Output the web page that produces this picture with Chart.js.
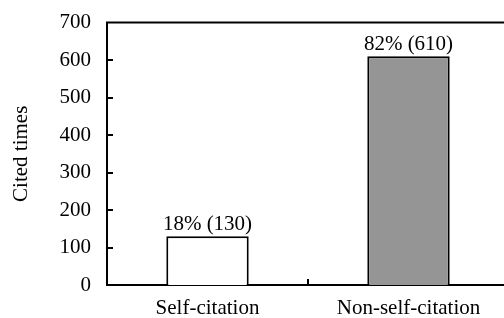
<!DOCTYPE html>
<html>
<head>
<meta charset="utf-8">
<script src="https://cdn.jsdelivr.net/npm/chart.js@4.4.1/dist/chart.umd.min.js"></script>
<style>
  html, body { margin: 0; padding: 0; background: #fff; overflow: hidden; }
  #wrap { position: absolute; left: 0; top: -6px; width: 509px; height: 324px; }
</style>
</head>
<body>
<div id="wrap"><canvas id="cite-chart"></canvas></div>
<script>
// data
var categories = ['Self-citation', 'Non-self-citation'];
var citedTimes = [130, 610];
var shareLabels = ['18%', '82%'];
var yTicks = [0, 100, 200, 300, 400, 500, 600, 700];

Chart.defaults.font.family = '"Liberation Serif", "Times New Roman", serif';
Chart.defaults.font.size = 21;
Chart.defaults.color = '#000';

// inward tick marks, top frame line and value labels
var framePlugin = {
    id: 'frame',
    afterDatasetsDraw: function (chart) {
        var ctx = chart.ctx;
        var area = chart.chartArea;
        var x = chart.scales.x;
        var y = chart.scales.y;

        ctx.save();
        ctx.strokeStyle = '#000';
        ctx.lineWidth = 2;

        // top line of the frame
        ctx.beginPath();
        ctx.moveTo(area.left - 1, area.top);
        ctx.lineTo(area.right + 1, area.top);
        ctx.stroke();

        // y ticks pointing into the plot
        yTicks.forEach(function (v) {
            if (v === 0 || v === 700) return;
            var py = Math.round(y.getPixelForValue(v));
            ctx.beginPath();
            ctx.moveTo(area.left, py);
            ctx.lineTo(area.left + 6, py);
            ctx.stroke();
        });

        // category separator tick
        for (var i = 0; i < categories.length - 1; i++) {
            var px = Math.round((x.getPixelForValue(i) + x.getPixelForValue(i + 1)) / 2);
            ctx.beginPath();
            ctx.moveTo(px, area.bottom);
            ctx.lineTo(px, area.bottom - 6);
            ctx.stroke();
        }

        // value labels above the bars
        var meta = chart.getDatasetMeta(0);
        ctx.fillStyle = '#000';
        ctx.font = '21px "Liberation Serif", "Times New Roman", serif';
        ctx.textAlign = 'center';
        ctx.textBaseline = 'bottom';
        meta.data.forEach(function (bar, idx) {
            ctx.fillText(shareLabels[idx] + ' (' + citedTimes[idx] + ')', bar.x, bar.y - 1);
        });
        ctx.restore();
    }
};

var ctx = document.getElementById('cite-chart').getContext('2d');

new Chart(ctx, {
    type: 'bar',
    data: {
        labels: categories,
        datasets: [
            {
                data: citedTimes,
                backgroundColor: ['#ffffff', '#959595'],
                borderColor: '#000',
                borderWidth: 2,
                borderSkipped: 'bottom',
                categoryPercentage: 1,
                barPercentage: 0.41
            }
        ]
    },
    options: {
        responsive: true,
        maintainAspectRatio: false,
        animation: false,
        layout: { padding: { top: 16, left: 0, right: 0, bottom: 0 } },
        plugins: {
            legend: { display: false },
            tooltip: { enabled: false }
        },
        scales: {
            x: {
                grid: { display: false, drawTicks: false },
                border: { display: true, color: '#000', width: 2 },
                ticks: { padding: 11, color: '#000' },
                afterFit: function (s) { s.height = 33; }
            },
            y: {
                min: 0,
                max: 700,
                grid: { display: false, drawTicks: false },
                border: { display: true, color: '#000', width: 2 },
                ticks: { stepSize: 100, padding: 16, color: '#000' },
                title: {
                    display: true,
                    text: 'Cited times',
                    color: '#000',
                    padding: { top: 9, bottom: 4 }
                },
                afterFit: function (s) { s.width = 107; }
            }
        }
    },
    plugins: [framePlugin]
});
</script>
</body>
</html>
